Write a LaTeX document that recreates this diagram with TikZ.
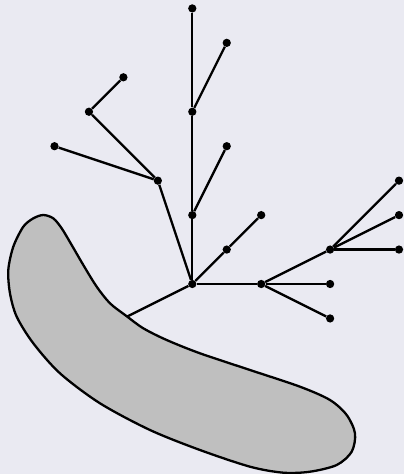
\documentclass[tikz,border=0pt]{standalone}
\begin{document}
\begin{tikzpicture}[x=1cm,y=1cm,
  dot/.style={circle,fill=black,inner sep=0pt,minimum size=0.24cm},
  edge/.style={draw=black,line width=1.9pt},
  blob/.style={draw=black,line width=1.9pt,fill=blobgray}]
\definecolor{bgc}{HTML}{EAEAF2}
\definecolor{blobgray}{HTML}{BFBFBF}
\fill[bgc] (-5.582,-5.515) rectangle (6.145,8.244);
\useasboundingbox (-5.582,-5.515) rectangle (6.145,8.244);
% nodes
\node[dot] (r) at (0,0) {};
\node[dot] (v2) at (0,2) {};
\node[dot] (v5) at (0,5) {};
\node[dot] (v8) at (0,8) {};
\node[dot] (a17) at (1,7) {};
\node[dot] (a14) at (1,4) {};
\node[dot] (d11) at (1,1) {};
\node[dot] (d22) at (2,2) {};
\node[dot] (l13) at (-1,3) {};
\node[dot] (l35) at (-3,5) {};
\node[dot] (l26) at (-2,6) {};
\node[dot] (l44) at (-4,4) {};
\node[dot] (h20) at (2,0) {};
\node[dot] (h40) at (4,0) {};
\node[dot] (h4m) at (4,-1) {};
\node[dot] (h41) at (4,1) {};
\node[dot] (h63) at (6,3) {};
\node[dot] (h62) at (6,2) {};
\node[dot] (h61) at (6,1) {};
\coordinate (b) at (-2,-1);
% edges
\draw[edge] (r) -- (v2);
\draw[edge] (v2) -- (v5);
\draw[edge] (v5) -- (v8);
\draw[edge] (v5) -- (a17);
\draw[edge] (v2) -- (a14);
\draw[edge] (r) -- (d11);
\draw[edge] (d11) -- (d22);
\draw[edge] (r) -- (l13);
\draw[edge] (l13) -- (l35);
\draw[edge] (l35) -- (l26);
\draw[edge] (l13) -- (l44);
\draw[edge] (r) -- (h20);
\draw[edge] (h20) -- (h40);
\draw[edge] (h20) -- (h4m);
\draw[edge] (h20) -- (h41);
\draw[edge] (h41) -- (h63);
\draw[edge] (h41) -- (h62);
\draw[edge] (h41) -- (h61);
\draw[edge] (r) -- (b);
% blob
\draw[blob] plot[smooth cycle, tension=0.5] coordinates {
  (-4.325,2.003) (-4.035,1.906) (-3.791,1.616) (-3.501,1.132) (-3.164,0.552)
  (-2.775,-0.078) (-2.389,-0.560) (-1.924,-0.920) (-1.422,-1.286) (-0.743,-1.626)
  (0.224,-2.012) (1.675,-2.496) (3.126,-2.981) (3.997,-3.367) (4.482,-3.803)
  (4.723,-4.334) (4.627,-4.868) (4.192,-5.254) (3.417,-5.448) (2.642,-5.477)
  (1.675,-5.303) (0.224,-4.819) (-1.228,-4.238) (-2.679,-3.463) (-3.840,-2.593)
  (-4.615,-1.722) (-5.097,-0.949) (-5.292,-0.270) (-5.341,0.406) (-5.196,1.083)
  (-4.906,1.663) (-4.615,1.906)};
\end{tikzpicture}
\end{document}
